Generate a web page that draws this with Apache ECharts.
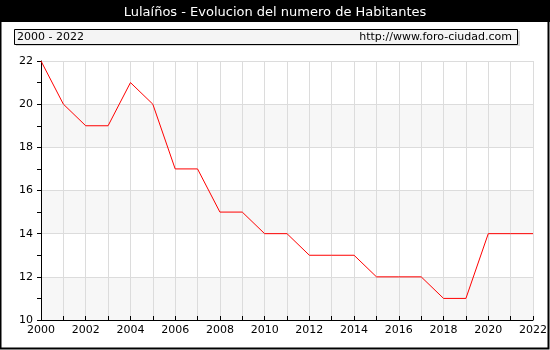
<!DOCTYPE html>
<html><head><meta charset="utf-8">
<script src="https://cdn.jsdelivr.net/npm/echarts@6/dist/echarts.min.js"></script>
<style>html,body{margin:0;padding:0;background:#fff}#c{width:550px;height:350px}</style>
</head><body><div id="c"></div>
<script>
var years = ['2000','2001','2002','2003','2004','2005','2006','2007','2008','2009','2010','2011','2012','2013','2014','2015','2016','2017','2018','2019','2020','2021','2022'];
var habitantes = [22,20,19,19,21,20,17,17,15,15,14,14,13,13,13,12,12,12,11,11,14,14,14];
var titleText = 'Lulaíños - Evolucion del numero de Habitantes';
var rangeText = '2000 - 2022';
var siteText = 'http://www.foro-ciudad.com';

var chart = echarts.init(document.getElementById('c'), null, {renderer:'canvas'});
var font = 'DejaVu Sans, Verdana, sans-serif';
chart.setOption({
  animation:false,
  backgroundColor:'#fff',
  graphic:[
    {type:'rect', shape:{x:0,y:0,width:550,height:22}, style:{fill:'#000'}, z:0},
    {type:'rect', shape:{x:0.5,y:0.5,width:548,height:348}, style:{fill:'none',stroke:'#000',lineWidth:2}, z:0},
    {type:'text', x:275, y:6, style:{text:titleText, fill:'#fff', font:'13px '+font, textAlign:'center'}, z:10},
    {type:'rect', shape:{x:16,y:31,width:504,height:15}, style:{fill:'#d8d8d8'}, z:1},
    {type:'rect', shape:{x:14.5,y:29.5,width:503,height:15}, style:{fill:'#f4f4f4',stroke:'#000',lineWidth:1}, z:2},
    {type:'text', x:17, y:31.5, style:{text:rangeText, fill:'#000', font:'11px '+font}, z:10},
    {type:'text', x:512, y:31.5, style:{text:siteText, fill:'#000', font:'11px '+font, textAlign:'right'}, z:10}
  ],
  grid:{left:41, right:15, top:61, bottom:30, containLabel:false},
  xAxis:{
    type:'category', data:years, boundaryGap:false,
    axisLine:{lineStyle:{color:'#000',width:1}},
    axisTick:{show:true, inside:true, length:4, interval:0, lineStyle:{color:'#000'}},
    axisLabel:{interval:1, color:'#000', fontFamily:font, fontSize:11, margin:5},
    splitLine:{show:true, interval:0, lineStyle:{color:'#dcdcdc'}}
  },
  yAxis:{
    type:'value', min:10, max:22, interval:2,
    axisLine:{show:true, lineStyle:{color:'#000'}},
    axisTick:{show:true, length:4, lineStyle:{color:'#000'}},
    minorTick:{show:true, splitNumber:2, length:4, lineStyle:{color:'#000'}},
    axisLabel:{color:'#000', fontFamily:font, fontSize:11, margin:8},
    splitLine:{show:true, lineStyle:{color:'#dcdcdc'}},
    splitArea:{show:true, areaStyle:{color:['#f7f7f7','#ffffff']}}
  },
  series:[{
    type:'line', data:habitantes, symbol:'none',
    lineStyle:{color:'#ff0000', width:1}, z:5
  }]
});
</script></body></html>
